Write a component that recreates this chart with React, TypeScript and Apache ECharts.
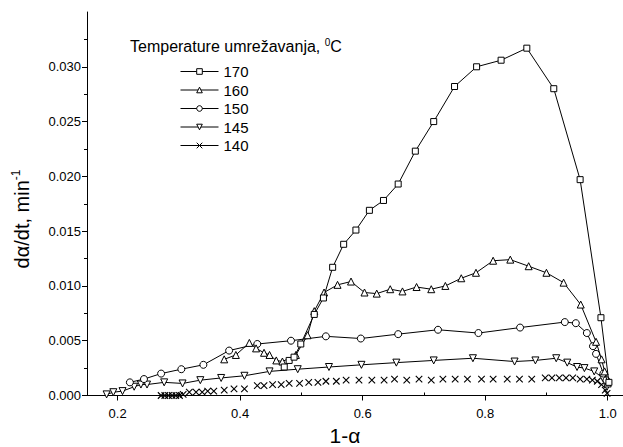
import React, { useEffect, useRef } from "react";
import * as echarts from "echarts";

const FONT = '"Liberation Sans", Arial, Helvetica, sans-serif';

// Series: curing temperature 170 °C (squares)
const x170 = [0.472, 0.480, 0.488, 0.499, 0.521, 0.536, 0.551, 0.569, 0.589, 0.611, 0.634, 0.658, 0.686, 0.716, 0.750, 0.786, 0.826, 0.868, 0.912, 0.955, 0.989, 1.002];
const y170 = [0.0026, 0.0032, 0.0035, 0.0047, 0.0074, 0.0089, 0.0117, 0.0138, 0.0151, 0.0169, 0.0178, 0.0193, 0.0223, 0.0250, 0.0282, 0.0300, 0.0306, 0.0317, 0.0280, 0.0197, 0.0071, 0.0012];

// 160 °C (triangles)
const x160 = [0.374, 0.393, 0.415, 0.426, 0.439, 0.448, 0.459, 0.469, 0.491, 0.510, 0.521, 0.537, 0.559, 0.581, 0.603, 0.623, 0.645, 0.665, 0.688, 0.712, 0.735, 0.761, 0.785, 0.813, 0.841, 0.871, 0.900, 0.928, 0.956, 0.981, 0.990, 0.995, 1.000];
const y160 = [0.0033, 0.0037, 0.0048, 0.0043, 0.0039, 0.0037, 0.0032, 0.0031, 0.0037, 0.0055, 0.0077, 0.0094, 0.0101, 0.0104, 0.0094, 0.0093, 0.0097, 0.0095, 0.0099, 0.0097, 0.0100, 0.0107, 0.0112, 0.0123, 0.0124, 0.0118, 0.0112, 0.0103, 0.0083, 0.0049, 0.0033, 0.0022, 0.0011];

// 150 °C (circles)
const x150 = [0.220, 0.243, 0.271, 0.304, 0.340, 0.382, 0.428, 0.483, 0.540, 0.597, 0.658, 0.723, 0.789, 0.857, 0.930, 0.948, 0.966, 0.976, 0.981, 0.993, 0.998];
const y150 = [0.0012, 0.0015, 0.0020, 0.0024, 0.0028, 0.0041, 0.0047, 0.0050, 0.0054, 0.0052, 0.0056, 0.0060, 0.0057, 0.0062, 0.0067, 0.0066, 0.0057, 0.0045, 0.0038, 0.0020, 0.0014];

// 145 °C (down triangles)
const x145 = [0.182, 0.193, 0.208, 0.227, 0.238, 0.248, 0.276, 0.306, 0.335, 0.369, 0.407, 0.448, 0.494, 0.545, 0.598, 0.655, 0.716, 0.780, 0.848, 0.882, 0.916, 0.934, 0.950, 0.962, 0.978, 0.992, 0.999];
const y145 = [0.0001, 0.0003, 0.0004, 0.0008, 0.0010, 0.0010, 0.0012, 0.0011, 0.0014, 0.0016, 0.0018, 0.0022, 0.0024, 0.0026, 0.0028, 0.0030, 0.0032, 0.0034, 0.0031, 0.0032, 0.0034, 0.0030, 0.0026, 0.0025, 0.0022, 0.0016, 0.0008];

// 140 °C (crosses)
const x140 = [0.271, 0.277, 0.283, 0.289, 0.295, 0.301, 0.307, 0.317, 0.328, 0.338, 0.347, 0.357, 0.374, 0.390, 0.407, 0.428, 0.439, 0.453, 0.467, 0.480, 0.497, 0.512, 0.527, 0.540, 0.557, 0.573, 0.594, 0.615, 0.635, 0.652, 0.672, 0.692, 0.712, 0.731, 0.751, 0.771, 0.794, 0.813, 0.836, 0.856, 0.876, 0.898, 0.909, 0.921, 0.932, 0.943, 0.955, 0.966, 0.975, 0.983, 0.990, 0.996, 0.999];
const y140 = [0, 0, 0, 0, 0, 0, 0.0001, 0.0003, 0.0003, 0.0003, 0.0004, 0.0004, 0.0005, 0.0006, 0.0006, 0.0009, 0.0009, 0.0010, 0.0010, 0.0011, 0.0011, 0.0012, 0.0012, 0.0013, 0.0013, 0.0014, 0.0014, 0.0014, 0.0014, 0.0015, 0.0014, 0.0015, 0.0014, 0.0015, 0.0015, 0.0015, 0.0015, 0.0015, 0.0015, 0.0015, 0.0015, 0.0016, 0.0016, 0.0016, 0.0016, 0.0016, 0.0015, 0.0015, 0.0014, 0.0013, 0.0010, 0.0005, 0.0002];

const seriesNames = ["170", "160", "150", "145", "140"];
const xTicks = [0.2, 0.4, 0.6, 0.8, 1.0];
const xMinorTicks = [0.3, 0.5, 0.7, 0.9];
const yTicks = [0, 0.005, 0.01, 0.015, 0.02, 0.025, 0.03];
const yMinorTicks = [0.0025, 0.0075, 0.0125, 0.0175, 0.0225, 0.0275, 0.0325];

function zip(xs: number[], ys: number[]): number[][] {
  const n = Math.min(xs.length, ys.length);
  const out: number[][] = [];
  for (let i = 0; i < n; i++) out.push([xs[i], ys[i]]);
  return out;
}

const CROSS = "path://M0,0L10,10M10,0L0,10";

export default function App() {
  const ref = useRef<HTMLDivElement>(null);
  useEffect(() => {
    const chart = echarts.init(ref.current!, null, { renderer: "svg" });
    const black = { color: "#000", width: 1 };
    const hollow = { color: "#fff", borderColor: "#000", borderWidth: 1 };
    const base = {
      type: "line",
      clip: false,
      showAllSymbol: true,
      lineStyle: black,
      itemStyle: hollow,
      emphasis: { disabled: true },
      silent: true,
    };
    const label = { color: "#000", fontSize: 13, fontFamily: FONT };
    chart.setOption({
      animation: false,
      backgroundColor: "#fff",
      textStyle: { fontFamily: FONT },
      grid: { left: 87, right: 0, top: 12, bottom: 51.5 },
      xAxis: [
        {
          type: "value",
          min: 0.15,
          max: 1.025,
          position: "bottom",
          axisLine: { show: true, lineStyle: black },
          axisTick: { show: true, length: 5, lineStyle: black, customValues: xTicks },
          axisLabel: { ...label, customValues: xTicks, margin: 11, formatter: (v: number) => v.toFixed(1) },
          splitLine: { show: false },
        },
        {
          type: "value",
          min: 0.15,
          max: 1.025,
          position: "bottom",
          axisLine: { show: false },
          axisTick: { show: true, inside: true, length: 3, lineStyle: black, customValues: xMinorTicks },
          axisLabel: { show: false },
          splitLine: { show: false },
        },
      ],
      yAxis: [
        {
          type: "value",
          min: 0,
          max: 0.035,
          axisLine: { show: true, lineStyle: black },
          axisTick: { show: true, length: 5, lineStyle: black, customValues: yTicks },
          axisLabel: { ...label, customValues: yTicks, margin: 6, formatter: (v: number) => v.toFixed(3) },
          splitLine: { show: false },
        },
        {
          type: "value",
          min: 0,
          max: 0.035,
          position: "left",
          axisLine: { show: false },
          axisTick: { show: true, length: 3, lineStyle: black, customValues: yMinorTicks },
          axisLabel: { show: false },
          splitLine: { show: false },
        },
      ],
      legend: {
        orient: "vertical",
        left: 180,
        top: 64,
        padding: 0,
        itemWidth: 38,
        itemHeight: 7,
        itemGap: 3.5,
        selectedMode: false,
        lineStyle: { width: 1, color: "#000" },
        itemStyle: { borderWidth: 1, borderColor: "#000" },
        textStyle: { color: "#000", fontSize: 15, lineHeight: 15, fontFamily: FONT },
        data: seriesNames.map((n) =>
          n === "140" ? { name: n, lineStyle: { width: 1, color: "#000", opacity: 1 } } : { name: n }
        ),
      },
      series: [
        { ...base, name: "170", data: zip(x170, y170), symbol: "rect", symbolSize: 6, z: 7 },
        { ...base, name: "160", data: zip(x160, y160), symbol: "triangle", symbolSize: 7, z: 6 },
        { ...base, name: "150", data: zip(x150, y150), symbol: "circle", symbolSize: 7, z: 5 },
        { ...base, name: "145", data: zip(x145, y145), symbol: "triangle", symbolRotate: 180, symbolSize: 7, z: 4 },
        {
          ...base,
          name: "140",
          data: zip(x140, y140),
          symbol: CROSS,
          symbolSize: 6.5,
          lineStyle: { color: "#000", width: 1, opacity: 0 },
          itemStyle: { color: "none", borderColor: "#000", borderWidth: 1.1 },
          z: 3,
        },
      ],
      graphic: [
        {
          type: "text",
          left: 130,
          top: 37,
          style: {
            text: "Temperature umrežavanja, {s|0}C",
            fill: "#000",
            fontSize: 16,
            fontFamily: FONT,
            lineHeight: 19,
            rich: { s: { fontSize: 10, fontFamily: FONT, verticalAlign: "top", lineHeight: 11 } },
          },
        },
        {
          type: "text",
          x: 22,
          y: 219,
          rotation: Math.PI / 2,
          style: {
            text: "dα/dt, min{s|-1}",
            fill: "#000",
            fontSize: 20,
            fontFamily: FONT,
            lineHeight: 24,
            align: "center",
            verticalAlign: "middle",
            rich: { s: { fontSize: 12, fontFamily: FONT, verticalAlign: "top", lineHeight: 13 } },
          },
        },
        {
          type: "text",
          x: 345,
          y: 435,
          style: {
            text: "1-α",
            fill: "#000",
            fontSize: 21,
            lineHeight: 22,
            fontFamily: FONT,
            align: "center",
            verticalAlign: "middle",
          },
        },
      ],
    });
    return () => chart.dispose();
  }, []);
  return <div ref={ref} style={{ position: "absolute", left: 0, top: 0, width: 623, height: 447 }} />;
}
